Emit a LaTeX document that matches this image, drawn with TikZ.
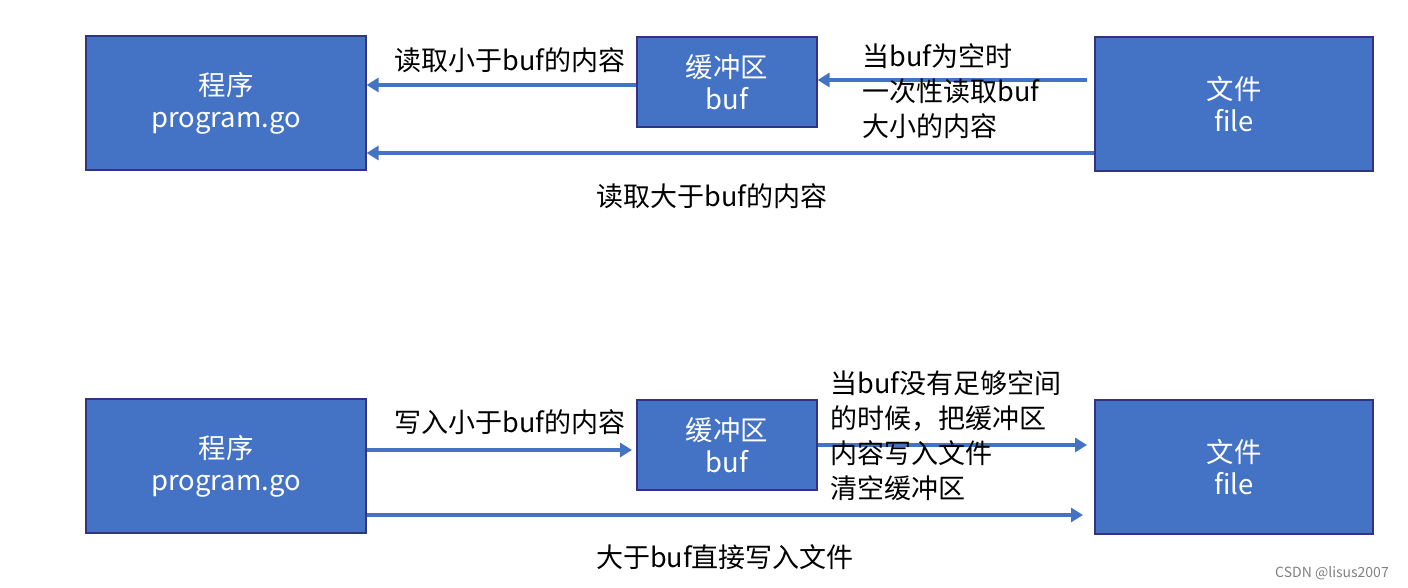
\documentclass[tikz,border=0pt]{standalone}
\usepackage{fontspec}
\setmainfont{Noto Sans CJK SC}
\usetikzlibrary{arrows.meta}
\begin{document}
\begin{tikzpicture}[x=0.5pt,y=-0.5pt,
  box/.style={draw=blue!40!black!80,line width=0.6pt,fill={rgb,255:red,68;green,114;blue,196},text=white,font=\fontsize{13.7}{16}\selectfont,align=center,inner sep=0pt},
  arr/.style={draw={rgb,255:red,68;green,114;blue,196},line width=1.8pt,-{Triangle[length=6pt,width=7pt]}},
  lab/.style={font=\fontsize{13.5}{17.5}\selectfont,align=left,inner sep=0pt}]
\useasboundingbox (0,0) rectangle (1408,588);
% top
\node[box,minimum width=140pt,minimum height=67pt] (p1) at (226,103) {程序\\program.go};
\node[box,minimum width=90pt,minimum height=45pt] (b1) at (727,82) {缓冲区\\buf};
\node[box,minimum width=139pt,minimum height=67pt] (f1) at (1234,104) {文件\\file};
\coordinate (c1) at (1087,80);
\draw[arr] (b1.west|-0,85) -- (p1.east|-0,85);
\draw[arr] (c1) -- (b1.east|-c1);
\draw[arr] (f1.west|-0,153) -- (p1.east|-0,153);
\node[lab] (l1) at (510,60) {读取小于buf的内容};
\node[lab,anchor=north west] (l2) at (862,43) {当buf为空时\\一次性读取buf\\大小的内容};
\node[lab] (l3) at (712,196) {读取大于buf的内容};
% bottom
\node[box,minimum width=140pt,minimum height=67pt] (p2) at (226,466) {程序\\program.go};
\node[box,minimum width=90pt,minimum height=45pt] (b2) at (727,445) {缓冲区\\buf};
\node[box,minimum width=139pt,minimum height=67pt] (f2) at (1234,467) {文件\\file};
\coordinate (c2) at (632,450);
\coordinate (c3) at (1087,445);
\coordinate (c4) at (1083,515);
\draw[arr] (p2.east|-c2) -- (c2);
\draw[arr] (b2.east|-c3) -- (c3);
\draw[arr] (p2.east|-c4) -- (c4);
\node[lab] (l4) at (510,422) {写入小于buf的内容};
\node[lab,anchor=north west] (l5) at (830,370) {当buf没有足够空间\\的时候，把缓冲区\\内容写入文件\\清空缓冲区};
\node[lab] (l6) at (725,557) {大于buf直接写入文件};
\node[font=\fontsize{7}{8}\selectfont,text=gray,inner sep=0pt] (w) at (1332,573) {CSDN @lisus2007};
\end{tikzpicture}
\end{document}
